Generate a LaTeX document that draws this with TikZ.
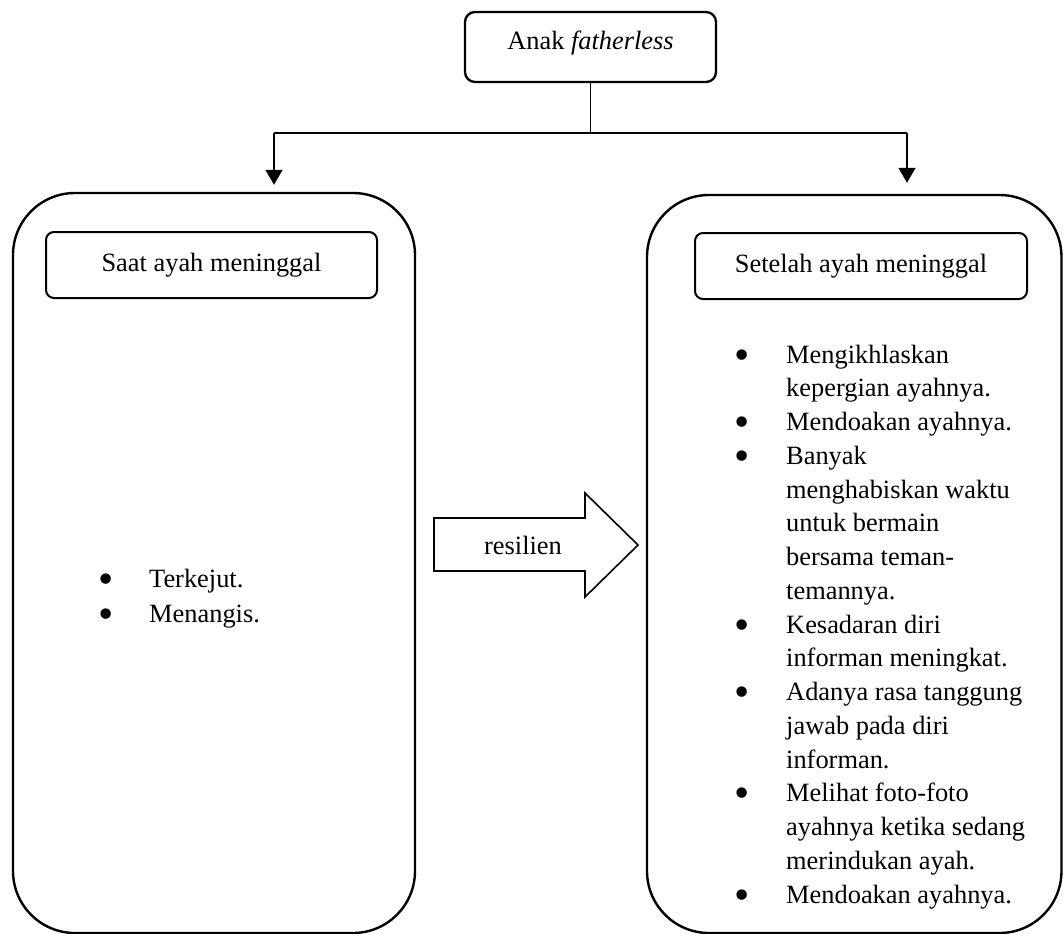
\documentclass[tikz,border=0pt]{standalone}
\usepackage{fontspec}
\usepackage{graphicx}
\setmainfont{Liberation Serif}
\usetikzlibrary{arrows.meta}
% a heavier list bullet, kept centred on the x-height
\newcommand{\bigdot}{\smash{\raisebox{-6.2pt}{\scalebox{1.65}{\textbullet}}}}
\begin{document}
\begin{tikzpicture}[x=1pt,y=-1pt,
  txt/.style={font=\fontsize{26.4}{33.75}\selectfont},
  bigframe/.style={draw, line width=2.4pt, rounded corners=62pt, inner sep=0pt},
  titlebox/.style={draw, line width=2pt, rounded corners=8pt, inner sep=0pt, txt},
  link/.style={line width=1.3pt},
  downarrow/.style={link, -{Triangle[width=17pt,length=15pt]}},
  bigarrow/.style={draw, line width=1.6pt, line join=miter}
]
% canvas
\fill[white] (0,0) rectangle (1063,934);
\useasboundingbox (0,0) rectangle (1063,934);

% root
\node[titlebox, rounded corners=10pt, line width=2.3pt, minimum width=251pt, minimum height=70pt,
      text height=23pt, text depth=17pt] (root) at (590.5,47) {Anak \textit{fatherless}};

% two phases
\node[bigframe, minimum width=402pt, minimum height=740pt] (before) at (214,563) {};
\node[bigframe, minimum width=414.5pt, minimum height=738pt] (after) at (854.25,564) {};

\node[titlebox, minimum width=331pt, minimum height=66pt] (beforehead) at (211.5,265) {Saat ayah meninggal};
\node[titlebox, minimum width=332pt, minimum height=66pt] (afterhead) at (861,266) {Setelah ayah meninggal};

% branching connectors
\coordinate (jl) at (274,133);
\coordinate (jr) at (907,133);
\draw[link] (root.south) -- (root.south |- jl);
\draw[link] (jl) -- (jr);
\draw[downarrow, shorten >=7pt] (jl) -- (jl |- before.north);
\draw[downarrow, shorten >=11pt] (jr) -- (jr |- after.north);

% block arrow between the phases
\draw[bigarrow] (434,518) -- (585,518) -- (585,493) -- (638,545) -- (585,597) -- (585,571) -- (434,571) -- cycle;
\node[txt, inner sep=0pt] (resilien) at (523,545) {resilien};

% lists
\node[txt, inner sep=0pt, anchor=base west] (beforelist) at (98.5,587) {%
  \fontsize{26.4}{35}\selectfont
  \begin{tabular}[t]{@{}p{50.5pt}@{}l@{}}
  \bigdot & Terkejut.\\
  \bigdot & Menangis.
  \end{tabular}};

\node[txt, inner sep=0pt, anchor=base west] (afterlist) at (734.5,363) {%
  \fontsize{26.4}{33.75}\selectfont
  \begin{tabular}[t]{@{}p{51.5pt}@{}l@{}}
  \bigdot & Mengikhlaskan\\
          & kepergian ayahnya.\\
  \bigdot & Mendoakan ayahnya.\\
  \bigdot & Banyak\\
          & menghabiskan waktu\\
          & untuk bermain\\
          & bersama teman-\\
          & temannya.\\
  \bigdot & Kesadaran diri\\
          & informan meningkat.\\
  \bigdot & Adanya rasa tanggung\\
          & jawab pada diri\\
          & informan.\\
  \bigdot & Melihat foto-foto\\
          & ayahnya ketika sedang\\
          & merindukan ayah.\\
  \bigdot & Mendoakan ayahnya.
  \end{tabular}};
\end{tikzpicture}
\end{document}
